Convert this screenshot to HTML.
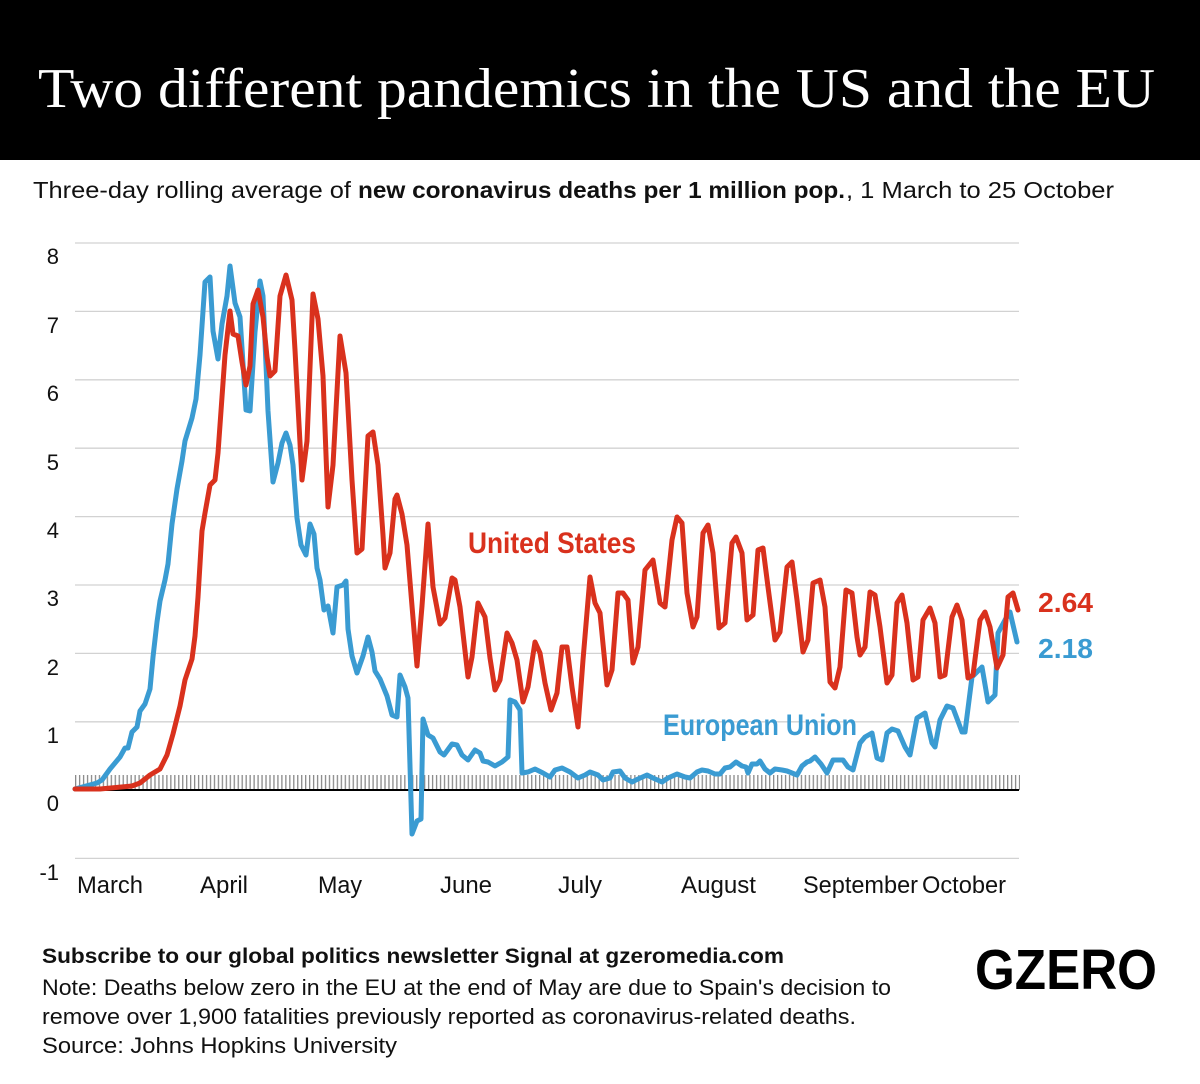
<!DOCTYPE html>
<html>
<head>
<meta charset="utf-8">
<style>
  html,body{margin:0;padding:0;background:#fff;}
  svg{display:block;}
  text{font-family:"Liberation Sans",sans-serif;}
</style>
</head>
<body>
<svg width="1200" height="1084" viewBox="0 0 1200 1084" xmlns="http://www.w3.org/2000/svg">
  <defs>
    <pattern id="hatch" x="75" y="775" width="3.966" height="15" patternUnits="userSpaceOnUse">
      <rect x="0" y="0" width="1.3" height="15" fill="#8a8a8a"/>
    </pattern>
  </defs>
  <rect x="0" y="0" width="1200" height="1084" fill="#fff"/>
  <!-- Header -->
  <rect x="0" y="0" width="1200" height="160" fill="#000"/>
  <text x="38" y="107" fill="#fff" font-family="Liberation Serif, serif" font-size="56" textLength="1117" lengthAdjust="spacingAndGlyphs" style="font-family:'Liberation Serif',serif;">Two different pandemics in the US and the EU</text>

  <!-- Subtitle -->
  <text x="33" y="198" font-size="23" fill="#111" textLength="318" lengthAdjust="spacingAndGlyphs">Three-day rolling average of</text>
  <text x="358" y="198" font-size="23" font-weight="bold" fill="#111" textLength="487" lengthAdjust="spacingAndGlyphs">new coronavirus deaths per 1 million pop.</text>
  <text x="846" y="198" font-size="23" fill="#111" textLength="268" lengthAdjust="spacingAndGlyphs">, 1 March to 25 October</text>

  <!-- Gridlines -->
  <g stroke="#d2d2d2" stroke-width="1.3">
    <line x1="75" y1="243" x2="1019" y2="243"/>
    <line x1="75" y1="311.4" x2="1019" y2="311.4"/>
    <line x1="75" y1="379.8" x2="1019" y2="379.8"/>
    <line x1="75" y1="448.2" x2="1019" y2="448.2"/>
    <line x1="75" y1="516.6" x2="1019" y2="516.6"/>
    <line x1="75" y1="585" x2="1019" y2="585"/>
    <line x1="75" y1="653.4" x2="1019" y2="653.4"/>
    <line x1="75" y1="721.8" x2="1019" y2="721.8"/>
    <line x1="75" y1="858.4" x2="1019" y2="858.4"/>
  </g>
  <!-- hatch + zero line -->
  <rect x="75" y="775" width="945" height="15" fill="url(#hatch)"/>
  <line x1="75" y1="790" x2="1019" y2="790" stroke="#000" stroke-width="2"/>

  <!-- Y labels -->
  <g font-size="22" fill="#111" text-anchor="end">
    <text x="59" y="264">8</text>
    <text x="59" y="333">7</text>
    <text x="59" y="401">6</text>
    <text x="59" y="470">5</text>
    <text x="59" y="538">4</text>
    <text x="59" y="606">3</text>
    <text x="59" y="675">2</text>
    <text x="59" y="743">1</text>
    <text x="59" y="811">0</text>
    <text x="59" y="880">-1</text>
  </g>

  <!-- X labels -->
  <g font-size="24" fill="#111">
    <text x="77" y="893" textLength="66" lengthAdjust="spacingAndGlyphs">March</text>
    <text x="200" y="893" textLength="48" lengthAdjust="spacingAndGlyphs">April</text>
    <text x="318" y="893" textLength="44" lengthAdjust="spacingAndGlyphs">May</text>
    <text x="440" y="893" textLength="52" lengthAdjust="spacingAndGlyphs">June</text>
    <text x="558" y="893" textLength="44" lengthAdjust="spacingAndGlyphs">July</text>
    <text x="681" y="893" textLength="75" lengthAdjust="spacingAndGlyphs">August</text>
    <text x="803" y="893" textLength="115" lengthAdjust="spacingAndGlyphs">September</text>
    <text x="922" y="893" textLength="84" lengthAdjust="spacingAndGlyphs">October</text>
  </g>

  <!-- EU series (blue) -->
  <polyline fill="none" stroke="#3a9bd2" stroke-width="5" stroke-linejoin="round" stroke-linecap="round" points="
75,789 97,783 102,780 110,769 120,757 125,748 128,748 132,732 137,727 140,711 145,704 150,689 153,657 157,622 160,601 165,580 168,564 172,524 177,489 182,461 185,441 192,418 196,399 200,355 205,282 210,277 213,331 218,359 222,324 227,296 230,266 235,303 240,317 246,410 250,411 255,332 260,281 263,296 268,411 273,482 278,463 282,443 286,433 290,445 293,465 297,518 301,545 306,555 310,524 314,534 317,568 320,580 324,610 328,606 333,633 337,587 343,585 346,581 348,629 352,656 357,673 363,656 368,637 372,652 375,671 380,679 387,696 392,715 397,717 400,675 405,687 408,698 412,834 417,821 421,819 423,719 428,735 433,738 440,752 444,755 452,744 457,745 462,755 468,760 475,750 480,753 483,761 488,762 495,766 502,762 508,757 510,700 515,702 520,710 522,773 528,772 535,769 543,773 550,777 555,770 562,768 570,772 578,778 585,775 590,772 598,775 603,780 610,778 613,772 620,771 625,778 632,782 638,779 647,775 653,778 662,782 668,778 677,774 685,777 690,778 697,772 702,770 708,771 715,774 720,774 725,768 730,767 736,762 742,766 746,767 748,773 752,764 757,764 760,761 765,769 770,773 775,769 782,770 787,771 792,773 797,775 802,766 807,762 810,761 815,757 821,764 827,773 833,760 843,760 848,767 853,770 860,743 865,737 872,733 877,758 882,760 887,733 892,729 898,731 905,747 910,755 917,718 925,713 932,743 935,747 940,720 947,706 953,708 962,732 965,732 972,677 982,667 988,702 995,695 998,633 1005,620 1010,612 1017,642"/>

  <!-- US series (red) -->
  <polyline fill="none" stroke="#d9311d" stroke-width="5" stroke-linejoin="round" stroke-linecap="round" points="
75,789 100,789 132,786 140,783 150,775 160,769 167,755 173,734 180,706 185,680 192,659 195,636 198,597 202,531 205,513 210,485 215,480 218,453 222,397 225,355 230,311 233,334 238,336 242,362 246,385 250,366 253,304 258,290 263,317 267,357 270,376 275,371 280,296 286,275 292,300 295,350 302,480 307,441 313,294 318,319 323,376 328,507 333,465 340,336 346,373 352,480 357,553 362,549 368,436 373,432 378,465 383,535 385,568 390,553 395,499 397,495 402,514 407,545 412,606 417,666 422,606 428,524 433,587 440,624 445,618 452,578 455,580 460,607 468,677 472,657 478,603 485,617 490,658 495,690 500,680 507,633 512,643 517,660 523,702 528,687 535,642 540,653 545,683 551,710 557,693 562,647 567,647 572,687 578,727 583,660 590,577 595,603 600,613 607,685 612,670 618,593 623,593 628,600 633,663 638,647 645,570 653,560 660,603 665,607 672,540 677,517 682,523 687,593 693,627 697,617 703,533 708,525 713,553 719,628 725,623 732,543 736,537 742,553 747,620 753,615 758,550 763,548 768,587 775,640 780,632 787,567 792,562 797,600 803,652 808,640 813,583 820,580 825,607 830,682 835,688 840,667 846,590 852,593 857,637 860,655 865,647 870,592 875,595 880,627 887,683 892,675 897,603 902,595 907,623 913,680 918,677 923,620 930,608 935,623 940,677 945,675 952,617 957,605 962,620 968,678 973,675 980,620 985,612 990,627 997,668 1003,655 1008,597 1013,593 1018,610"/>

  <!-- Series labels -->
  <text x="468" y="553" font-size="30" font-weight="bold" fill="#d9311d" textLength="168" lengthAdjust="spacingAndGlyphs">United States</text>
  <text x="663" y="735" font-size="30" font-weight="bold" fill="#3a9bd2" textLength="194" lengthAdjust="spacingAndGlyphs">European Union</text>
  <text x="1038" y="612" font-size="28" font-weight="bold" fill="#d9311d" textLength="55" lengthAdjust="spacingAndGlyphs">2.64</text>
  <text x="1038" y="658" font-size="28" font-weight="bold" fill="#3a9bd2" textLength="55" lengthAdjust="spacingAndGlyphs">2.18</text>

  <!-- Footer -->
  <text x="42" y="963" font-size="21" font-weight="bold" fill="#111" textLength="742" lengthAdjust="spacingAndGlyphs">Subscribe to our global politics newsletter Signal at gzeromedia.com</text>
  <text x="42" y="995" font-size="22" fill="#111" textLength="849" lengthAdjust="spacingAndGlyphs">Note: Deaths below zero in the EU at the end of May are due to Spain's decision to</text>
  <text x="42" y="1024" font-size="22" fill="#111" textLength="814" lengthAdjust="spacingAndGlyphs">remove over 1,900 fatalities previously reported as coronavirus-related deaths.</text>
  <text x="42" y="1053" font-size="22" fill="#111" textLength="355" lengthAdjust="spacingAndGlyphs">Source: Johns Hopkins University</text>

  <!-- Logo -->
  <text x="975" y="989" font-size="57" font-weight="bold" fill="#000" textLength="182" lengthAdjust="spacingAndGlyphs">GZERO</text>
</svg>
</body>
</html>
